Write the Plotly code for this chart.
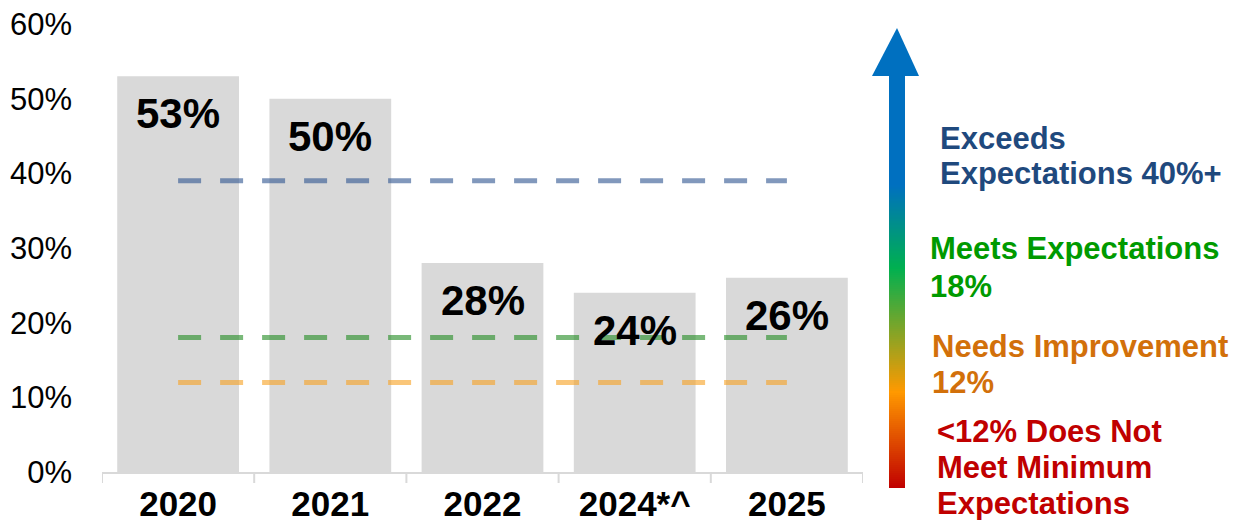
import plotly.graph_objects as go

# Share of students by year
years = ["2020", "2021", "2022", "2024*^", "2025"]
shares = [53, 50, 28, 24, 26]

# Benchmark levels (percent)
benchmark_names = ["Exceeds", "Meets", "Needs Improvement"]
benchmark_values = [39, 18, 12]
benchmark_colors = ["rgba(45,84,144,0.6)", "rgba(32,139,32,0.6)", "rgba(247,160,32,0.6)"]

y_ticks = [0, 10, 20, 30, 40, 50, 60]
y_tick_labels = ["0%", "10%", "20%", "30%", "40%", "50%", "60%"]

FONT = "Liberation Sans, Arial, sans-serif"

idx = list(range(len(years)))

fig = go.Figure()

fig.add_trace(go.Bar(
    x=idx, y=shares, width=0.8,
    marker=dict(color="#D9D9D9", line=dict(width=0)),
    showlegend=False, hoverinfo="skip",
))

# Dashed benchmark lines spanning first to last category centre
for name, val, col in zip(benchmark_names, benchmark_values, benchmark_colors):
    fig.add_trace(go.Scatter(
        x=[idx[0], idx[-1]], y=[val, val], mode="lines", name=name,
        line=dict(color=col, width=5, dash="23px,19px"),
        showlegend=False, hoverinfo="skip",
    ))

# Value labels inside the top of each bar
for i, v in zip(idx, shares):
    fig.add_annotation(
        x=i, y=v, text=f"<b>{v}%</b>", showarrow=False,
        yanchor="top", yshift=-12,
        font=dict(family=FONT, size=42, color="#000000"),
    )

# Plot-area geometry in pixels, used to place the side scale in paper units
L, R, T, B = 102, 863, 24, 472


def px(x):
    return (x - L) / (R - L)


def py(y):
    return (B - y) / (B - T)


def hex_rgb(h):
    h = h.lstrip("#")
    return tuple(int(h[i:i + 2], 16) for i in (0, 2, 4))


# Gradient arrow: colour stops along the shaft (pixel y, colour)
stops = [(75, "#0070C0"), (185, "#0070C0"), (268, "#00B050"),
         (392, "#FF9900"), (488, "#C00000")]


def color_at(y):
    for (y0, c0), (y1, c1) in zip(stops[:-1], stops[1:]):
        if y0 <= y <= y1:
            t = (y - y0) / (y1 - y0) if y1 > y0 else 0
            a, b = hex_rgb(c0), hex_rgb(c1)
            return "rgb(%d,%d,%d)" % tuple(round(a[i] + (b[i] - a[i]) * t) for i in range(3))
    return stops[-1][1]


shapes = []
shaft_x0, shaft_x1 = 889, 905
for y in range(75, 488, 2):
    shapes.append(dict(
        type="rect", xref="paper", yref="paper",
        x0=px(shaft_x0), x1=px(shaft_x1), y0=py(min(y + 2.6, 488)), y1=py(y),
        fillcolor=color_at(y + 1), line=dict(width=0), layer="above",
    ))
# Arrow head
head = "M %f %f L %f %f L %f %f Z" % (
    px(872), py(76), px(897), py(28), px(919), py(76))
shapes.append(dict(type="path", xref="paper", yref="paper", path=head,
                   fillcolor="#0070C0", line=dict(width=0), layer="above"))

# Side legend text
side_text = [
    ("Exceeds", 938, 138, "#1F497D"),
    ("Expectations 40%+", 938, 173, "#1F497D"),
    ("Meets Expectations", 928, 249, "#009A00"),
    ("18%", 928, 286, "#009A00"),
    ("Needs Improvement", 930, 346, "#D2700A"),
    ("12%", 930, 382, "#D2700A"),
    ("<12% Does Not", 935, 431, "#C00000"),
    ("Meet Minimum", 935, 467, "#C00000"),
    ("Expectations", 935, 503, "#C00000"),
]
for txt, x, y, c in side_text:
    fig.add_annotation(
        xref="paper", yref="paper", x=px(x), y=py(y),
        text=f"<b>{txt.replace('<', '&lt;')}</b>", showarrow=False,
        xanchor="left", yanchor="middle",
        font=dict(family=FONT, size=31, color=c),
    )

fig.update_layout(
    width=1246, height=520,
    margin=dict(l=L, r=1246 - R, t=T, b=520 - B),
    paper_bgcolor="white", plot_bgcolor="white",
    shapes=shapes,
    font=dict(family=FONT, color="#000000"),
    xaxis=dict(
        range=[-0.5, len(years) - 0.5], automargin=False,
        showgrid=False, zeroline=False,
        showline=True, linecolor="#D9D9D9", linewidth=2,
        tickmode="array", tickvals=idx, ticktext=years, tickangle=0,
        ticks="",
        tickfont=dict(family=FONT, size=35, color="#000000", weight="bold"),
    ),
    yaxis=dict(
        range=[0, 60], automargin=False,
        showgrid=False, zeroline=False, showline=False,
        tickvals=y_ticks, ticktext=y_tick_labels, ticks="",
        ticklabelstandoff=29,
        tickfont=dict(family=FONT, size=31, color="#000000"),
    ),
)

# Category boundary ticks below the axis line
for b in [i - 0.5 for i in idx] + [idx[-1] + 0.5]:
    fig.add_shape(type="line", xref="x", yref="paper", x0=b, x1=b,
                  y0=0, y1=py(483), line=dict(color="#D9D9D9", width=2))

fig.write_html("out.html")
